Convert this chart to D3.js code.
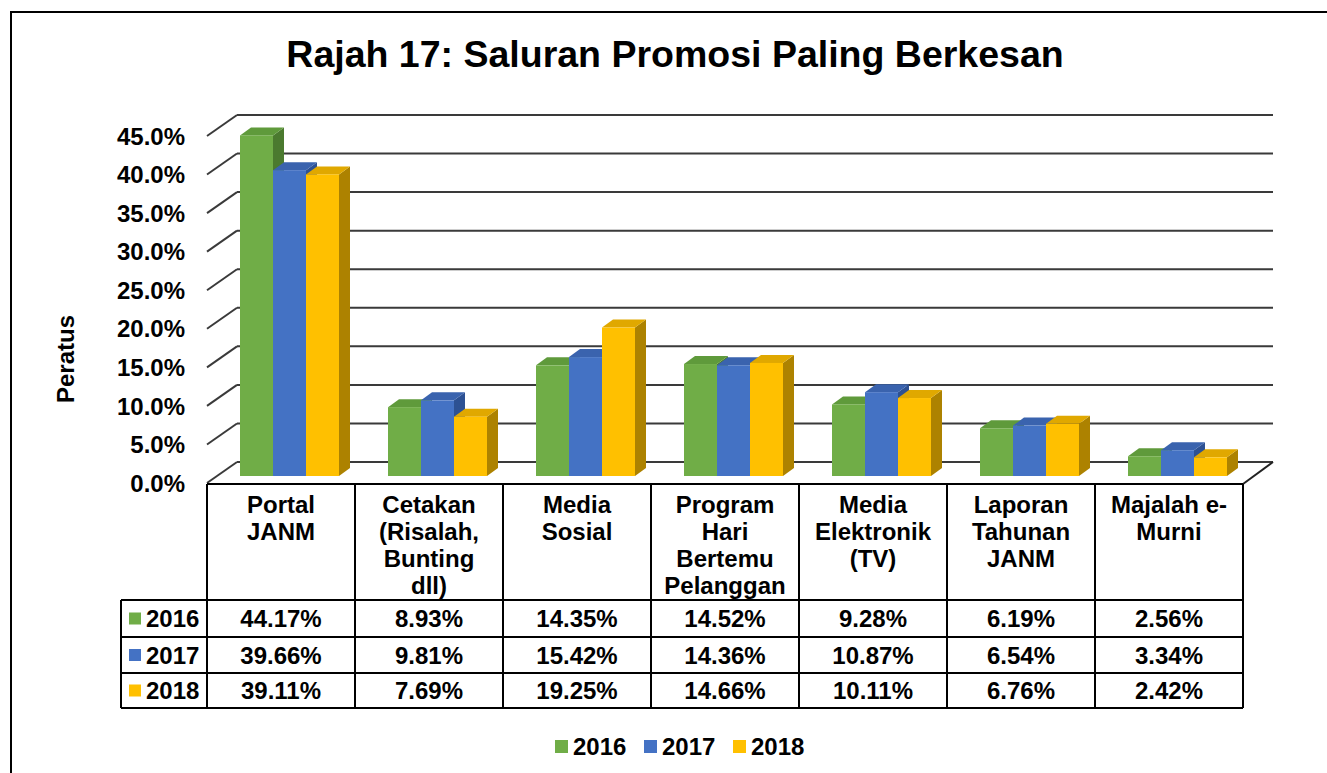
<!DOCTYPE html>
<html><head><meta charset="utf-8">
<script src="https://cdn.jsdelivr.net/npm/d3@7"></script>
<style>body{margin:0;background:#fff}svg text{font-family:"Liberation Sans",Arial,sans-serif;font-weight:bold;fill:#000}</style>
</head><body>
<svg id="c" width="1327" height="773"></svg>
<script>
const categories = [["Portal","JANM"],["Cetakan","(Risalah,","Bunting","dll)"],["Media","Sosial"],["Program","Hari","Bertemu","Pelanggan"],["Media","Elektronik","(TV)"],["Laporan","Tahunan","JANM"],["Majalah e-","Murni"]];
const seriesNames = ["2016","2017","2018"];
const values2016 = [44.17, 8.93, 14.35, 14.52, 9.28, 6.19, 2.56];
const values2017 = [39.66, 9.81, 15.42, 14.36, 10.87, 6.54, 3.34];
const values2018 = [39.11, 7.69, 19.25, 14.66, 10.11, 6.76, 2.42];
const yTicks = [0,5,10,15,20,25,30,35,40,45];
const title = "Rajah 17: Saluran Promosi Paling Berkesan";
const yTitle = "Peratus";

const series = [values2016, values2017, values2018];
const colors = [
  {front:"#70AD47", top:"#5f9a3b", side:"#4b7a2f"},
  {front:"#4472C4", top:"#3a63ae", side:"#2d5193"},
  {front:"#FFC000", top:"#e0a800", side:"#ad8200"}
];
const FS = "24px";

const svg = d3.select("#c");
svg.append("rect").attr("x",11).attr("y",12).attr("width",1400).attr("height",800)
  .attr("fill","none").attr("stroke","#000").attr("stroke-width",2);

svg.append("text").attr("x",675).attr("y",67).attr("text-anchor","middle")
  .style("font-size","37.5px").text(title);

const left = 207, right = 1243;
const depthX = 30, depthY = -21;
const y = d3.scaleLinear().domain([0,45]).range([483,136]);
const x = d3.scaleBand().domain(d3.range(categories.length)).range([left,right]);
const groupW = 99;
const xs = d3.scaleBand().domain(d3.range(series.length)).range([0,groupW]);

const g = svg.append("g");
yTicks.forEach(t => {
  const yf = y(t);
  g.append("line").attr("x1",left).attr("y1",yf).attr("x2",left+depthX).attr("y2",yf+depthY)
    .attr("stroke","#3a3a3a").attr("stroke-width",2);
  g.append("line").attr("x1",left+depthX).attr("y1",yf+depthY).attr("x2",right+depthX).attr("y2",yf+depthY)
    .attr("stroke","#3a3a3a").attr("stroke-width",2);
  g.append("text").attr("x",185).attr("y",yf).attr("dy","0.36em").attr("text-anchor","end")
    .style("font-size",FS).text(t.toFixed(1)+"%");
});
g.append("line").attr("x1",right).attr("y1",y(0)+1).attr("x2",right+depthX).attr("y2",y(0)+depthY)
  .attr("stroke","#222").attr("stroke-width",2);

svg.append("text").attr("transform","translate(74,359) rotate(-90)").attr("text-anchor","middle")
  .style("font-size","24px").text(yTitle);

const bShiftX = 8.5, bShiftY = -7, dX = 11, dY = -8;
const bars = svg.append("g");
categories.forEach((c,i) => {
  const gx = x(i) + (x.bandwidth()-groupW)/2 + bShiftX;
  series.forEach((vals,j) => {
    const x0 = gx + xs(j), w = xs.bandwidth();
    const yt = y(vals[i]) + bShiftY, yb = y(0) + bShiftY;
    const col = colors[j];
    bars.append("polygon").attr("points",[[x0+w,yt],[x0+w+dX,yt+dY],[x0+w+dX,yb+dY],[x0+w,yb]].join(" "))
      .attr("fill",col.side);
    bars.append("polygon").attr("points",[[x0,yt],[x0+w,yt],[x0+w+dX,yt+dY],[x0+dX,yt+dY]].join(" "))
      .attr("fill",col.top);
    bars.append("rect").attr("x",x0).attr("y",yt).attr("width",w).attr("height",yb-yt).attr("fill",col.front);
  });
});

const tbl = svg.append("g");
const rowY = [484, 600, 637, 673, 708];
const ln = (x1,y1,x2,y2)=>tbl.append("line").attr("x1",x1).attr("y1",y1).attr("x2",x2).attr("y2",y2).attr("stroke","#000").attr("stroke-width",2);
ln(left,rowY[0],right,rowY[0]);
for (let r=1;r<rowY.length;r++) ln(121,rowY[r],right,rowY[r]);
ln(121,rowY[1],121,rowY[4]);
for (let i=0;i<=categories.length;i++) ln(left + i*x.bandwidth(), rowY[0], left + i*x.bandwidth(), rowY[4]);

categories.forEach((c,i) => {
  const cx = x(i) + x.bandwidth()/2;
  c.forEach((line,k) => {
    tbl.append("text").attr("x",cx).attr("y",513 + k*27).attr("text-anchor","middle")
      .style("font-size",FS).text(line);
  });
  series.forEach((vals,j) => {
    tbl.append("text").attr("x",cx).attr("y",(rowY[j+1]+rowY[j+2])/2).attr("dy","0.36em")
      .attr("text-anchor","middle").style("font-size",FS).text(vals[i].toFixed(2)+"%");
  });
});
seriesNames.forEach((s,j) => {
  const cy = (rowY[j+1]+rowY[j+2])/2;
  tbl.append("rect").attr("x",129).attr("y",cy-6).attr("width",12).attr("height",12).attr("fill",colors[j].front);
  tbl.append("text").attr("x",146).attr("y",cy).attr("dy","0.36em").style("font-size",FS).text(s);
});

const lx = [555, 644, 733];
seriesNames.forEach((s,j) => {
  svg.append("rect").attr("x",lx[j]).attr("y",740).attr("width",13).attr("height",13).attr("fill",colors[j].front);
  svg.append("text").attr("x",lx[j]+18).attr("y",746).attr("dy","0.36em").style("font-size",FS).text(s);
});
</script>
</body></html>
